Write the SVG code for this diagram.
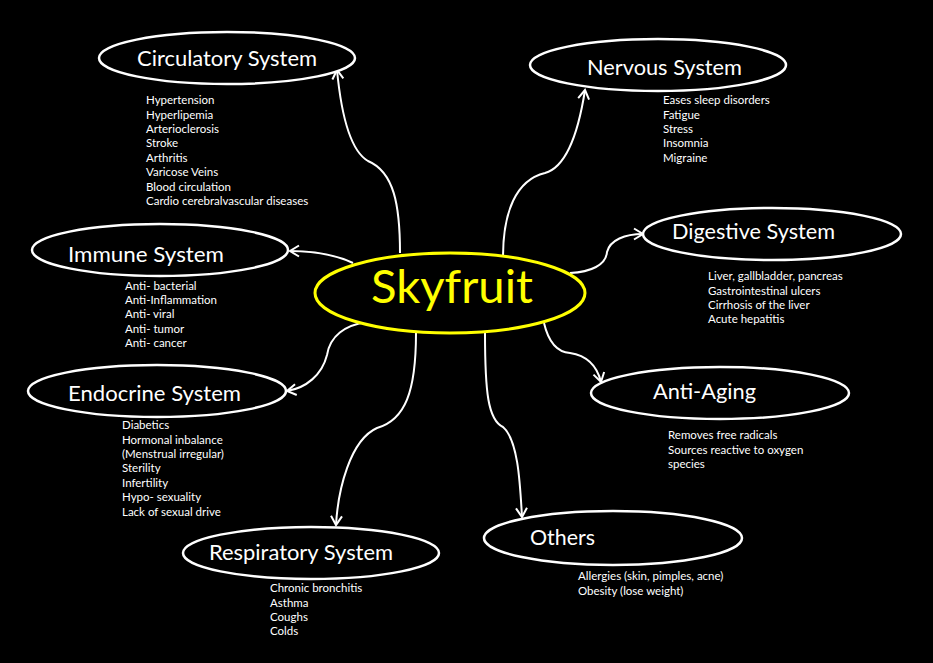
<svg xmlns="http://www.w3.org/2000/svg" width="933" height="663" viewBox="0 0 933 663">
<defs>
<style>
.bg{fill:#000}
.node{fill:#000;stroke:#fff;stroke-width:2.5}
.center{fill:#000;stroke:#ffff00;stroke-width:3}
.title{font-family:Lato,"Liberation Sans",sans-serif;font-size:22px;fill:#fff;text-anchor:middle}
.main{font-family:Lato,"Liberation Sans",sans-serif;font-size:46px;fill:#ffff00;text-anchor:middle}
.item{font-family:Lato,"Liberation Sans",sans-serif;font-size:11.5px;fill:#fff}
.conn{fill:none;stroke:#fff;stroke-width:2;marker-end:url(#arr)}
</style>
<marker id="arr" markerWidth="14" markerHeight="14" refX="11" refY="7" orient="auto" markerUnits="userSpaceOnUse">
<path d="M2,1.5 L11,7 L2,12.5" fill="none" stroke="#fff" stroke-width="2"/>
</marker>
</defs>
<rect class="bg" x="0" y="0" width="933" height="663"/>

<g id="connectors">
<path class="conn" d="M400,253 C400,205 394,172 368,161 C349,150 341,112 337,70"/>
<path class="conn" d="M353,263 C336,255 316,251 290,251"/>
<path class="conn" d="M503,257 C503,212 516,180 545,173 C570,166 580,122 585,90"/>
<path class="conn" d="M570,273 C591,272 606,265 607,252 C610,240 625,234 643,234"/>
<path class="conn" d="M544,323 C548,340 555,352 570,353 C590,356 598,370 601,382"/>
<path class="conn" d="M485,333 C485,392 488,420 503,427 C518,440 520,482 522,517"/>
<path class="conn" d="M416,333 C416,392 405,420 377,428 C350,440 338,490 336,525"/>
<path class="conn" d="M367,322 C345,325 330,336 327,355 C322,375 306,388 287,391"/>
</g>

<g id="skyfruit">
<ellipse class="center" cx="450" cy="293" rx="135" ry="40"/>
<text class="main" x="452" y="303" textLength="162" lengthAdjust="spacingAndGlyphs">Skyfruit</text>
</g>

<g id="circulatory">
<ellipse class="node" cx="227" cy="58" rx="128" ry="26"/>
<text class="title" x="227" y="66" textLength="180" lengthAdjust="spacingAndGlyphs">Circulatory System</text>
<text class="item" x="146" y="104">Hypertension</text>
<text class="item" x="146" y="118.5">Hyperlipemia</text>
<text class="item" x="146" y="133">Arterioclerosis</text>
<text class="item" x="146" y="147">Stroke</text>
<text class="item" x="146" y="162">Arthritis</text>
<text class="item" x="146" y="176">Varicose Veins</text>
<text class="item" x="146" y="191">Blood circulation</text>
<text class="item" x="146" y="205">Cardio cerebralvascular diseases</text>
</g>

<g id="immune">
<ellipse class="node" cx="160" cy="250" rx="128" ry="26"/>
<text class="title" x="146" y="262" textLength="156" lengthAdjust="spacingAndGlyphs">Immune System</text>
<text class="item" x="125" y="289.5">Anti- bacterial</text>
<text class="item" x="125" y="304">Anti-Inflammation</text>
<text class="item" x="125" y="318">Anti- viral</text>
<text class="item" x="125" y="332.5">Anti- tumor</text>
<text class="item" x="125" y="347">Anti- cancer</text>
</g>

<g id="endocrine">
<ellipse class="node" cx="157" cy="391" rx="129" ry="26"/>
<text class="title" x="154.5" y="401" textLength="173" lengthAdjust="spacingAndGlyphs">Endocrine System</text>
<text class="item" x="122" y="429">Diabetics</text>
<text class="item" x="122" y="443.5">Hormonal inbalance</text>
<text class="item" x="122" y="458">(Menstrual irregular)</text>
<text class="item" x="122" y="472">Sterility</text>
<text class="item" x="122" y="487">Infertility</text>
<text class="item" x="122" y="501">Hypo- sexuality</text>
<text class="item" x="122" y="516">Lack of sexual drive</text>
</g>

<g id="respiratory">
<ellipse class="node" cx="311" cy="553" rx="128" ry="26"/>
<text class="title" x="301" y="560" textLength="184" lengthAdjust="spacingAndGlyphs">Respiratory System</text>
<text class="item" x="270" y="592">Chronic bronchitis</text>
<text class="item" x="270" y="607">Asthma</text>
<text class="item" x="270" y="621">Coughs</text>
<text class="item" x="270" y="635">Colds</text>
</g>

<g id="nervous">
<ellipse class="node" cx="658" cy="65" rx="128" ry="26"/>
<text class="title" x="664.5" y="75" textLength="155" lengthAdjust="spacingAndGlyphs">Nervous System</text>
<text class="item" x="663" y="104">Eases sleep disorders</text>
<text class="item" x="663" y="119">Fatigue</text>
<text class="item" x="663" y="133">Stress</text>
<text class="item" x="663" y="147">Insomnia</text>
<text class="item" x="663" y="162">Migraine</text>
</g>

<g id="digestive">
<ellipse class="node" cx="772" cy="234" rx="129" ry="26"/>
<text class="title" x="753.5" y="239" textLength="163" lengthAdjust="spacingAndGlyphs">Digestive System</text>
<text class="item" x="708" y="280">Liver, gallbladder, pancreas</text>
<text class="item" x="708" y="295">Gastrointestinal ulcers</text>
<text class="item" x="708" y="309">Cirrhosis of the liver</text>
<text class="item" x="708" y="323">Acute hepatitis</text>
</g>

<g id="antiaging">
<ellipse class="node" cx="720" cy="393" rx="129" ry="26"/>
<text class="title" x="704.5" y="399" textLength="103" lengthAdjust="spacingAndGlyphs">Anti-Aging</text>
<text class="item" x="668" y="439">Removes free radicals</text>
<text class="item" x="668" y="454">Sources reactive to oxygen</text>
<text class="item" x="668" y="468">species</text>
</g>

<g id="others">
<ellipse class="node" cx="613" cy="538" rx="129" ry="27"/>
<text class="title" x="562.5" y="545" textLength="65" lengthAdjust="spacingAndGlyphs">Others</text>
<text class="item" x="578" y="580">Allergies (skin, pimples, acne)</text>
<text class="item" x="578" y="595">Obesity (lose weight)</text>
</g>
</svg>
